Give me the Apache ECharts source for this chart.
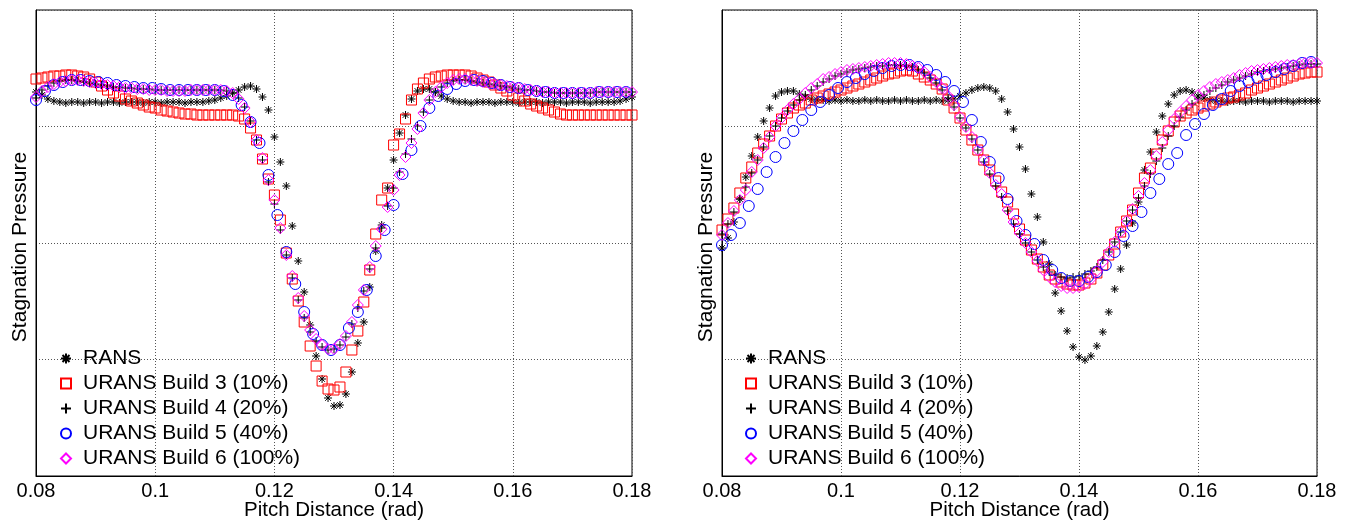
<!DOCTYPE html>
<html><head><meta charset="utf-8">
<script src="https://cdn.jsdelivr.net/npm/echarts@6/dist/echarts.min.js"></script>
<style>html,body{margin:0;padding:0;background:#fff}#c{width:1347px;height:521px}</style>
</head><body><div id="c"></div>
<script>
// sample positions (pitch distance, rad)
const X1 = [0.080,0.081,0.082,0.083,0.084,0.085,0.086,0.087,0.088,0.089,0.090,0.091,0.092,0.093,0.094,0.095,0.096,0.097,0.098,0.099,
0.100,0.101,0.102,0.103,0.104,0.105,0.106,0.107,0.108,0.109,0.110,0.111,0.112,0.113,0.114,0.115,0.116,0.117,0.118,0.119,
0.120,0.121,0.122,0.123,0.124,0.125,0.126,0.127,0.128,0.129,0.130,0.131,0.132,0.133,0.134,0.135,0.136,0.137,0.138,0.139,
0.140,0.141,0.142,0.143,0.144,0.145,0.146,0.147,0.148,0.149,0.150,0.151,0.152,0.153,0.154,0.155,0.156,0.157,0.158,0.159,
0.160,0.161,0.162,0.163,0.164,0.165,0.166,0.167,0.168,0.169,0.170,0.171,0.172,0.173,0.174,0.175,0.176,0.177,0.178,0.179,0.180];
const X15 = [0.0800,0.0815,0.0830,0.0845,0.0860,0.0875,0.0890,0.0905,0.0920,0.0935,0.0950,0.0965,0.0980,0.0995,0.1010,0.1025,0.1040,0.1055,0.1070,0.1085,
0.1100,0.1115,0.1130,0.1145,0.1160,0.1175,0.1190,0.1205,0.1220,0.1235,0.1250,0.1265,0.1280,0.1295,0.1310,0.1325,0.1340,0.1355,0.1370,0.1385,
0.1400,0.1415,0.1430,0.1445,0.1460,0.1475,0.1490,0.1505,0.1520,0.1535,0.1550,0.1565,0.1580,0.1595,0.1610,0.1625,0.1640,0.1655,0.1670,0.1685,
0.1700,0.1715,0.1730,0.1745,0.1760,0.1775,0.1790];

const seriesNames = ['RANS','URANS Build 3 (10%)','URANS Build 4 (20%)','URANS Build 5 (40%)','URANS Build 6 (100%)'];
const xTicks = [0.08,0.10,0.12,0.14,0.16,0.18];

// ---- left panel: stagnation pressure (arbitrary units) ----
const L_RANS = [384,381,377,375,374,373,374,374,373,374,
374,373,374,374,373,374,374,374,373,374,
374,373,374,374,374,373,374,374,374,375,
376,378,380,383,386,389,390,387,379,366,
339,314,290,250,215,184,151,120,97,78,
70,71,82,104,133,154,189,225,251,288,
316,343,361,377,385,387,387,384,380,377,
375,374,374,373,374,374,374,373,374,374,
374,373,374,374,374,373,374,374,374,373,
374,374,374,373,374,374,374,374,375,377,379];
const L_B3 = [397,398,399,400,400,401,401,400,399,397,
394,390,386,383,380,377,375,373,371,369,
368,366,365,364,363,362,362,361,361,361,
361,361,361,361,360,357,348,336,317,297,
281,256,223,197,175,154,130,110,95,87,
86,89,104,126,145,174,206,242,276,288,
331,342,357,376,387,393,397,399,400,401,
401,401,401,400,398,396,394,391,388,385,
381,378,375,372,370,368,366,364,362,361,
361,361,361,361,361,361,361,361,361,361,361];
const L_B4 = [378,386,390,393,395,396,396,395,394,393,
392,391,390,389,389,388,388,387,387,387,
386,386,386,386,386,386,386,386,386,386,
386,386,385,383,378,369,355,336,316,294,
272,246,221,198,176,158,144,135,129,126,
127,131,139,152,168,185,207,228,248,270,
288,304,322,337,350,364,376,384,389,393,
395,396,396,395,394,393,392,391,390,389,
388,387,386,386,385,384,384,383,383,383,
383,383,383,383,384,384,384,384,384,384,384];
const L_B5 = [376,385,391,394,396,396,395,394,393,391,
390,389,388,388,387,386,386,386,386,386,
386,385,381,371,354,333,301,261,224,192,
164,142,131,126,131,148,164,186,220,246,
271,302,326,350,368,380,387,392,395,396,
395,393,391,389,388,386,385,384,383,383,
383,383,383,384,384,384,384];
const L_B6 = [379,385,389,392,394,395,396,396,395,394,
393,392,391,390,389,388,388,387,387,386,
386,386,385,385,385,385,386,386,386,386,
386,386,385,383,377,368,354,336,318,296,
276,248,221,200,178,160,146,137,131,127,
127,132,140,154,171,186,209,230,247,269,
286,301,319,333,347,363,376,384,389,393,
396,397,397,396,395,394,393,392,391,390,
389,388,387,386,385,384,384,383,383,383,
383,383,383,383,384,384,384,384,384,384,384];

// ---- right panel ----
const R_RANS = [228,238,254,277,299,320,339,355,368,380,
384,385,385,382,379,377,376,376,375,376,
375,376,375,375,376,375,376,375,375,376,
375,376,375,375,376,375,376,375,376,377,
380,383,386,388,389,388,385,377,364,347,
329,307,282,259,234,212,183,165,145,129,
119,116,120,130,144,164,187,207,231,253,
274,306,324,344,360,372,381,385,386,384,
380,378,376,375,375,374,375,375,374,375,
375,375,374,375,375,375,374,375,375,375,375];
const R_B3 = [246,257,268,283,298,309,323,332,340,350,
357,363,368,371,373,376,378,380,382,384,
386,388,390,392,394,396,398,400,402,403,
405,406,405,402,399,396,392,387,376,368,
358,346,336,326,316,306,295,284,274,262,
247,236,226,217,209,201,197,194,192,191,
191,193,197,203,211,221,232,244,255,266,
283,298,308,322,336,345,354,360,363,366,
368,370,372,374,376,378,379,381,383,386,
388,390,392,394,396,398,400,402,403,404,404];
const R_B4 = [242,252,264,277,289,303,316,329,340,350,
358,365,371,376,381,386,390,394,397,400,
402,404,406,407,408,409,410,410,411,411,
411,410,409,406,403,398,393,386,378,369,
358,348,337,326,314,302,290,279,265,252,
242,233,224,216,209,204,201,199,198,199,
200,202,205,209,216,224,234,244,255,266,
278,290,302,315,328,340,350,359,366,372,
377,381,385,388,391,394,396,398,400,402,
404,405,406,407,408,409,410,411,412,412,412];
const R_B5 = [231,241,253,270,287,304,319,333,345,356,
366,374,381,388,394,398,402,405,408,410,
411,411,409,406,401,394,385,374,356,334,
314,298,277,255,241,232,216,206,198,195,
195,199,204,211,224,240,250,264,283,297,
312,323,341,352,362,371,377,385,390,394,
398,401,404,407,410,413,414];
const R_B6 = [241,253,265,276,286,304,316,328,339,350,
358,366,372,377,383,388,392,397,399,402,
404,406,407,408,409,410,411,412,413,413,
413,412,410,408,404,399,394,388,380,371,
359,349,339,326,316,303,291,282,266,254,
243,233,224,215,206,199,194,190,188,188,
189,192,197,205,214,224,234,244,255,267,
280,293,306,320,334,346,357,364,370,376,
381,385,389,392,394,396,398,401,403,405,
406,407,408,409,410,411,411,412,413,413,413];

const FONT = 'Liberation Sans, Arial, Helvetica, sans-serif';
const STAR = 'path://M5,0L5,10M0,5L10,5M1.5,1.5L8.5,8.5M8.5,1.5L1.5,8.5';
const PLUS = 'path://M5,0L5,10M0,5L10,5';
const styles = [
  {symbol: STAR, size: 8, color: '#000000'},
  {symbol: 'rect', size: 10, color: '#ff0000'},
  {symbol: PLUS, size: 8, color: '#000000'},
  {symbol: 'circle', size: 11, color: '#0000ff'},
  {symbol: 'diamond', size: 11, color: '#ff00ff'}
];
function pairs(xs, ys){ return ys.map((y,i)=>[xs[i], y]); }
const panels = [
  [[X1,L_RANS],[X1,L_B3],[X1,L_B4],[X15,L_B5],[X1,L_B6]],
  [[X1,R_RANS],[X1,R_B3],[X1,R_B4],[X15,R_B5],[X1,R_B6]]
];
const series = [];
panels.forEach((p, gi) => {
  p.forEach((d, k) => {
    const s = styles[k];
    series.push({
      type: 'scatter', name: seriesNames[k], xAxisIndex: gi, yAxisIndex: gi,
      data: pairs(d[0], d[1]), symbol: s.symbol, symbolSize: s.size,
      itemStyle: {color: 'rgba(0,0,0,0)', borderColor: s.color, borderWidth: 1, opacity: 1},
      emphasis: {disabled: true}, animation: false, silent: true
    });
  });
});
const grids = [{left: 36, top: 10, width: 596, height: 466}, {left: 722, top: 10, width: 595, height: 466}];
function xAxisFor(i){
  return {type: 'value', gridIndex: i, min: 0.08, max: 0.18, interval: 0.02,
    name: 'Pitch Distance (rad)', nameLocation: 'middle', nameGap: 24, nameMoveOverlap: false,
    nameTextStyle: {fontSize: 20.5, fontFamily: FONT, color: '#000'},
    axisLine: {show: true, lineStyle: {color: '#000', width: 1}},
    axisTick: {show: false},
    axisLabel: {fontSize: 20, fontFamily: FONT, color: '#000', margin: 5,
      formatter: v => String(Math.round(v*100)/100)},
    splitLine: {show: true, lineStyle: {color: '#555', width: 1, type: [1, 2]}}};
}
function yAxisFor(i){
  return {type: 'value', gridIndex: i, min: 0, max: 466, interval: 116.5,
    name: 'Stagnation Pressure', nameLocation: 'middle', nameGap: 5, nameRotate: 90, nameMoveOverlap: false,
    nameTextStyle: {fontSize: 21, fontFamily: FONT, color: '#000', padding: [0, 8, 0, 0]},
    axisLine: {show: true, lineStyle: {color: '#000', width: 1}},
    axisTick: {show: false}, axisLabel: {show: false},
    splitLine: {show: true, lineStyle: {color: '#555', width: 1, type: [1, 2]}}};
}
function legendFor(left){
  return {left: left, top: 343, orient: 'vertical', itemWidth: 10, itemHeight: 10, itemGap: 4,
    selectedMode: false, data: seriesNames,
    textStyle: {fontSize: 21, lineHeight: 21, fontFamily: FONT, color: '#000', padding: [0,0,0,7]}};
}
const chart = echarts.init(document.getElementById('c'), null, {renderer: 'canvas'});
chart.setOption({
  backgroundColor: '#fff', animation: false,
  grid: grids.map(g => Object.assign({show: true, borderColor: '#000', borderWidth: 1, backgroundColor: 'transparent',
    containLabel: false, outerBoundsMode: 'none'}, g)),
  xAxis: [xAxisFor(0), xAxisFor(1)],
  yAxis: [yAxisFor(0), yAxisFor(1)],
  legend: [legendFor(55), legendFor(740)],
  series: series
});
</script></body></html>
